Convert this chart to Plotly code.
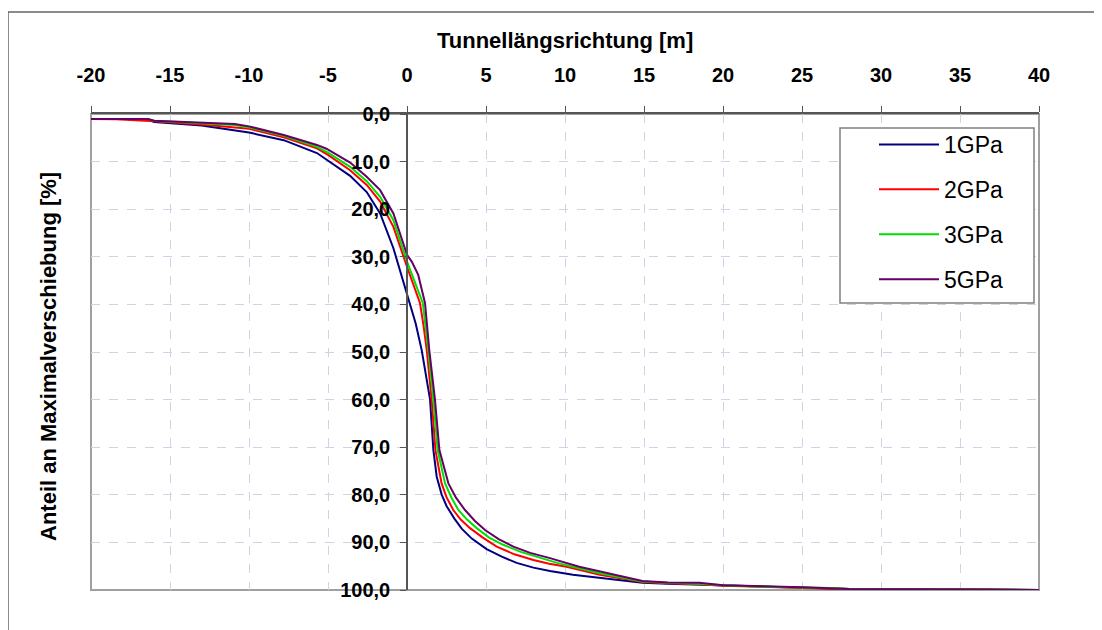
import plotly.graph_objects as go

# ---------------- data ----------------
series_names = ["1GPa", "2GPa", "3GPa", "5GPa"]
series_colors = ["#000080", "#FF0000", "#00E000", "#660066"]

x_1gpa = [-20, -16.5, -16, -13, -10, -7.8, -5.7, -5, -3.6, -2.55, -1.7, -0.86, -0.13, 0.15, 0.55, 0.93,
          1.2, 1.46, 1.67, 1.88, 2.2, 2.51, 3.0, 3.46, 4.1, 5.04, 6.0, 6.94, 8.0, 9.05, 10.5, 12.2,
          14.9, 16.5, 18.5, 20, 22.5, 25, 28, 32, 36, 40]
v_1gpa = [1.05, 1.05, 1.7, 2.4, 3.9, 5.5, 8.2, 9.8, 13.0, 16.4, 20.9, 28.2, 36.3, 39.7, 44.0, 49.6,
          55, 60, 70.6, 76.2, 80, 82.4, 85.0, 87.1, 89.2, 91.4, 93.0, 94.3, 95.3, 96.0, 96.8, 97.5,
          98.5, 98.7, 98.9, 99.1, 99.3, 99.6, 99.8, 99.8, 99.9, 100]

x_2gpa = [-20, -18.4, -16, -13, -10, -7.8, -5.7, -5, -3.6, -2.55, -1.7, -0.86, 0.0, 0.61, 0.82, 1.05,
          1.25, 1.56, 1.8, 2.19, 2.5, 2.93, 3.4, 3.99, 4.8, 5.68, 6.8, 8.0, 9.0, 10.1, 12.2, 14.9,
          16.5, 18.5, 20, 22.5, 25, 28, 32, 36.7, 38.9, 40]
v_2gpa = [1.05, 1.1, 1.5, 2.2, 3.1, 4.9, 7.2, 8.6, 11.8, 14.9, 18.4, 23.7, 32.1, 37.6, 39.7, 44.5,
          49.6, 60, 70.6, 77.6, 80.5, 83.2, 85.2, 87.0, 89.0, 90.9, 92.5, 93.7, 94.5, 95.1, 96.8, 98.3,
          98.6, 98.8, 99.1, 99.3, 99.6, 99.8, 99.8, 99.9, 100, 100]

x_3gpa = [-20, -16.4, -16, -13, -10.9, -10, -7.8, -5.7, -5, -3.6, -2.55, -1.7, -0.86, 0.0, 0.61, 1.0,
          1.35, 1.67, 1.94, 2.41, 2.8, 3.25, 3.8, 4.41, 5.2, 6.09, 7.2, 8.42, 9.5, 10.5, 12.2, 14.9,
          16.5, 18.5, 20, 22.5, 25, 26.9, 28, 32, 36, 40]
v_3gpa = [1.05, 1.05, 1.4, 2.0, 2.3, 2.8, 4.6, 6.9, 8.1, 11.1, 14.1, 17.4, 22.3, 31.0, 36.3, 39.7,
          49.6, 60, 70.6, 77.6, 80.5, 83.2, 85.2, 87.0, 89.0, 90.5, 92.0, 93.3, 94.3, 95.1, 96.5, 98.2,
          98.5, 98.7, 99.0, 99.3, 99.4, 99.6, 99.8, 99.8, 99.9, 100]

x_5gpa = [-20, -16.4, -16, -13, -10.9, -10, -7.8, -5.7, -5.1, -3.6, -2.55, -1.7, -0.86, 0.0, 0.3, 0.71,
          1.14, 1.41, 1.77, 2.05, 2.62, 3.1, 3.67, 4.3, 4.94, 5.8, 6.73, 7.8, 9.05, 10.9, 12.2, 14.9,
          16.5, 18.5, 20, 22.5, 25, 28, 32, 36, 40]
v_5gpa = [1.05, 1.05, 1.4, 1.9, 2.1, 2.6, 4.4, 6.5, 7.3, 10.2, 13.2, 16.0, 20.9, 29.6, 31.0, 33.8,
          39.7, 49.6, 60, 70.6, 77.6, 80.6, 83.2, 85.5, 87.4, 89.3, 90.9, 92.2, 93.3, 95.1, 96.1, 98.1,
          98.4, 98.5, 99.0, 99.2, 99.4, 99.8, 99.8, 99.9, 100]

x_tick_vals = [-20, -15, -10, -5, 0, 5, 10, 15, 20, 25, 30, 35, 40]
x_tick_labels = ["-20", "-15", "-10", "-5", "0", "5", "10", "15", "20", "25", "30", "35", "40"]

x_title = "Tunnellängsrichtung [m]"
y_title = "Anteil an Maximalverschiebung [%]"

xs = [x_1gpa, x_2gpa, x_3gpa, x_5gpa]
vs = [v_1gpa, v_2gpa, v_3gpa, v_5gpa]

FONT = "Arial, Liberation Sans, sans-serif"
GRID = "#d0d3e6"

fig = go.Figure()
for name, color, x, v in zip(series_names, series_colors, xs, vs):
    fig.add_trace(go.Scatter(x=x, y=v, mode="lines", name=name, legendgroup=name,
                             line=dict(color=color, width=2), cliponaxis=False))

# page is rendered with an 8px body margin: work in page pixels, convert to figure pixels
OFF = 8
W, H = 1102 - OFF, 630 - OFF
PL, PR, PT, PB = 91, 1039, 114, 590          # plot area in page pixels
L, T = PL - OFF, PT - OFF
R, B = W - (PR - OFF), H - (PB - OFF)
pw, ph = PR - PL, PB - PT

def px_x(p):
    return (p - PL) / pw

def px_y(p):
    return (PB - p) / ph

fig.update_layout(
    width=W, height=H,
    margin=dict(l=L, r=R, t=T, b=B),
    paper_bgcolor="white", plot_bgcolor="white",
    separators=",.",
    font=dict(family=FONT, color="black"),
    showlegend=True,
    legend=dict(x=px_x(874), y=px_y(123), xanchor="left", yanchor="top",
                bgcolor="rgba(0,0,0,0)", borderwidth=0,
                font=dict(family=FONT, size=23, color="black"),
                itemwidth=60, tracegroupgap=12),
    xaxis=dict(side="top", range=[-20, 40], tickmode="array",
               tickvals=x_tick_vals, ticktext=x_tick_labels,
               showgrid=True, gridcolor=GRID, griddash="dash", gridwidth=1,
               zeroline=False, showline=True, linecolor="#555555", linewidth=1.5,
               ticks="outside", ticklen=6, tickcolor="#555555",
               ticklabelstandoff=16,
               tickfont=dict(family=FONT, size=20, weight="bold", color="black")),
    yaxis=dict(range=[100, 0], dtick=10, tick0=0, tickformat=".1f",
               anchor="free", position=1/3,
               showgrid=True, gridcolor=GRID, griddash="dash", gridwidth=1,
               zeroline=False, showline=True, linecolor="#555555", linewidth=1.5,
               ticks="outside", ticklen=6, tickcolor="#555555",
               ticklabelstandoff=6,
               tickfont=dict(family=FONT, size=20, weight="bold", color="black")),
)

# plot frame
fig.add_shape(type="rect", xref="paper", yref="paper", x0=0, x1=1, y0=0, y1=1,
              line=dict(color="#a0a0a0", width=2), layer="below")
# outer chart border
fig.add_shape(type="rect", xref="paper", yref="paper",
              x0=px_x(8), x1=px_x(1120), y0=px_y(650), y1=px_y(12),
              line=dict(color="#666666", width=1.5), layer="below")
# legend box
fig.add_shape(type="rect", xref="paper", yref="paper",
              x0=px_x(840), x1=px_x(1034), y0=px_y(303), y1=px_y(128),
              line=dict(color="#808080", width=1.5), fillcolor="white", layer="above")

fig.add_annotation(text=x_title, xref="paper", yref="paper", x=0.5, y=px_y(40),
                   showarrow=False, xanchor="center", yanchor="middle",
                   font=dict(family=FONT, size=22, weight="bold", color="black"))
fig.add_annotation(text=y_title, xref="paper", yref="paper", x=px_x(48), y=px_y(357),
                   showarrow=False, xanchor="center", yanchor="middle", textangle=-90,
                   font=dict(family=FONT, size=22, weight="bold", color="black"))

fig.write_html("out.html")
